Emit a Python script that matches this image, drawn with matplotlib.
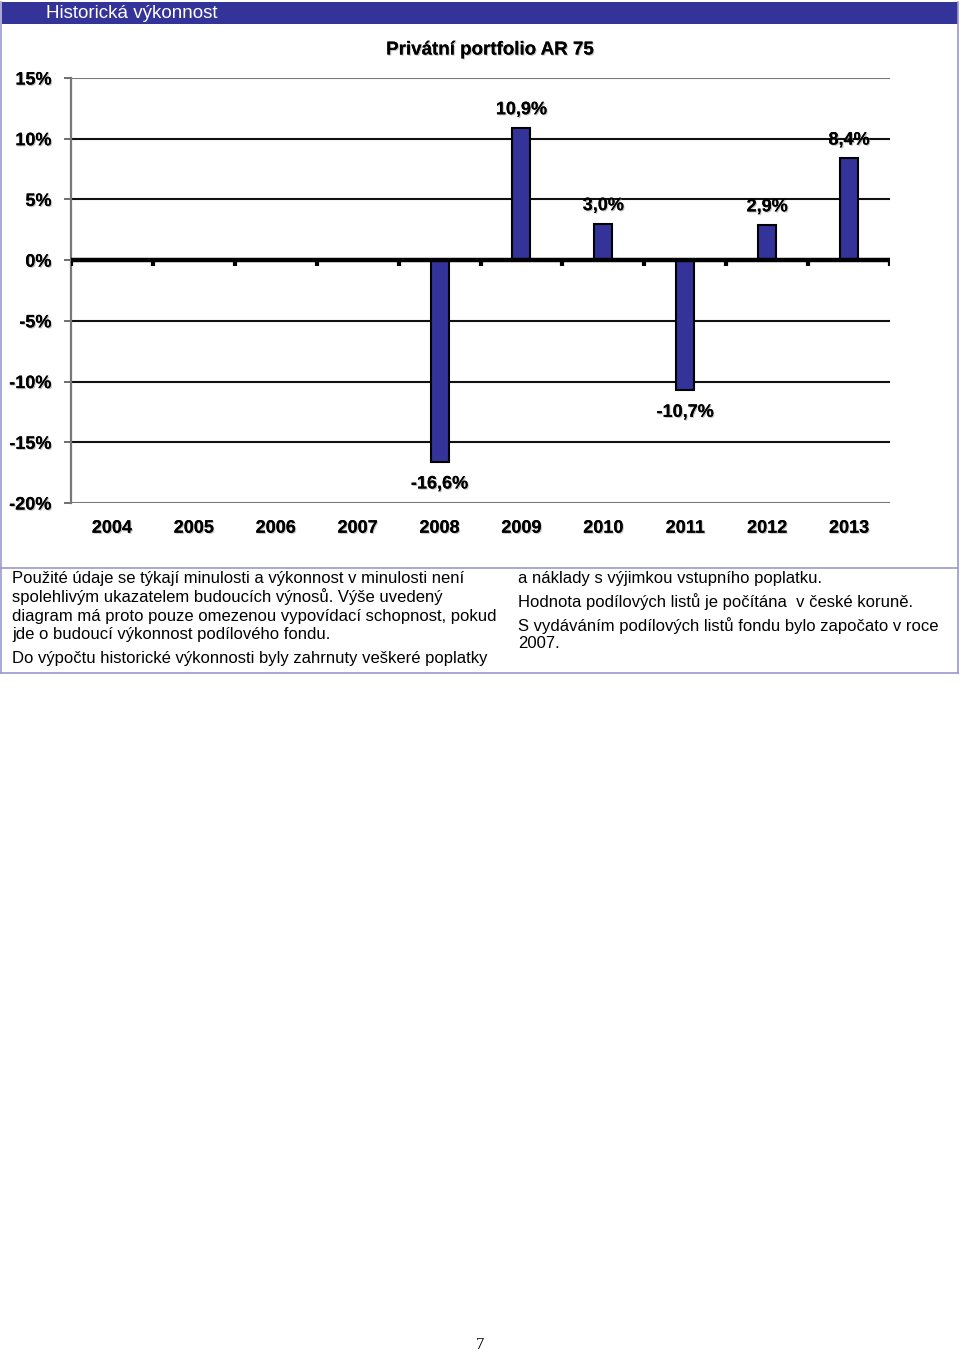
import matplotlib.pyplot as plt
import matplotlib.patches as mpatches
import matplotlib.patheffects as pe
import numpy as np

# data
years = ['2004', '2005', '2006', '2007', '2008', '2009', '2010', '2011', '2012', '2013']
returns = [np.nan, np.nan, np.nan, np.nan, -16.6, 10.9, 3.0, -10.7, 2.9, 8.4]
yticks = [15, 10, 5, 0, -5, -10, -15, -20]

chart_title = 'Privátní portfolio AR 75'
header = 'Historická výkonnost'
left_lines = ['Použité údaje se týkají minulosti a výkonnost v minulosti není',
              'spolehlivým ukazatelem budoucích výnosů. Výše uvedený',
              'diagram má proto pouze omezenou vypovídací schopnost, pokud',
              'jde o budoucí výkonnost podílového fondu.',
              'Do výpočtu historické výkonnosti byly zahrnuty veškeré poplatky']
right_lines = ['a náklady s výjimkou vstupního poplatku.',
               'Hodnota podílových listů je počítána  v české koruně.',
               'S vydáváním podílových listů fondu bylo započato v roce',
               '2007.']
left_y = [578, 597, 616, 635, 659]
right_y = [578, 602, 626, 644]

W, H = 960, 1353
plt.rcParams['font.family'] = ['Liberation Sans', 'DejaVu Sans']

fig = plt.figure(figsize=(W / 100, H / 100), dpi=100)

def fx(px):
    return px / W

def fy(py):
    return 1 - py / H

BLUE = '#333399'
FRAME = '#9a9acc'

# header band and frame
fig.patches.append(mpatches.Rectangle((fx(2), fy(24)), fx(956), 22 / H, transform=fig.transFigure,
                                      facecolor=BLUE, edgecolor='none'))
fig.text(fx(46), fy(13), header, color='white', fontsize=13.5, va='center', ha='left')
for x in (1, 958):
    fig.add_artist(plt.Line2D([fx(x), fx(x)], [fy(2), fy(673)], transform=fig.transFigure, color=FRAME, lw=1.2))
for y in (568, 673):
    fig.add_artist(plt.Line2D([fx(1), fx(958)], [fy(y), fy(y)], transform=fig.transFigure, color=FRAME, lw=1.2))

# chart
ax = fig.add_axes([fx(71), fy(503), fx(890) - fx(71), (503 - 78) / H])
x = np.arange(len(years))
vals = np.array(returns, dtype=float)
ax.bar(x, vals, width=0.22, color=BLUE, edgecolor='black', linewidth=1.5, zorder=3)

ax.set_xlim(-0.5, len(years) - 0.5)
ax.set_ylim(-20, 15)
ax.set_yticks(yticks)
ax.set_yticklabels([f'{v}%' for v in yticks])
ax.set_xticks(x)
ax.set_xticklabels(years)

shadow = [pe.withSimplePatchShadow(offset=(0.8, -0.8), shadow_rgbFace='#999999', alpha=0.6), pe.Normal()]

ax.tick_params(axis='y', length=5, width=1.2, color='#555555', pad=9, labelsize=13)
ax.tick_params(axis='x', length=0, pad=12, labelsize=13)
for lab in ax.get_yticklabels() + ax.get_xticklabels():
    lab.set_fontweight('bold')
    lab.set_path_effects(shadow)

for yv in yticks:
    if yv == 0:
        continue
    c = '#777777' if yv in (15, -20) else '#111111'
    ax.axhline(yv, color=c, lw=1.5, zorder=1)

ax.axhline(0, color='black', lw=3.2, zorder=4)
# category tick marks on the zero line
bounds = np.arange(len(years) + 1) - 0.5
ax.vlines(bounds, -0.45, 0, color='black', lw=3, zorder=4)

for s in ('top', 'right', 'bottom'):
    ax.spines[s].set_visible(False)
ax.spines['left'].set_color('#777777')
ax.spines['left'].set_linewidth(1.6)

for xi, v in zip(x, vals):
    if np.isnan(v):
        continue
    lbl = f'{v:.1f}%'.replace('.', ',')
    off = 13 if v > 0 else -16
    ax.annotate(lbl, (xi, v), xytext=(0, off), textcoords='offset points', ha='center',
                va='center', fontsize=13, fontweight='bold', path_effects=shadow)

fig.text(fx(490), fy(50), chart_title, ha='center', va='center', fontsize=13.5, fontweight='bold',
         path_effects=shadow)

# footer text
for line, yy in zip(left_lines, left_y):
    fig.text(fx(12), fy(yy), line, ha='left', va='center', fontsize=12)
for line, yy in zip(right_lines, right_y):
    fig.text(fx(518), fy(yy), line, ha='left', va='center', fontsize=12)

fig.text(fx(480), fy(1345), '7', ha='center', va='center', fontsize=12, family='Liberation Serif')

fig.savefig('out.png', dpi=100)
